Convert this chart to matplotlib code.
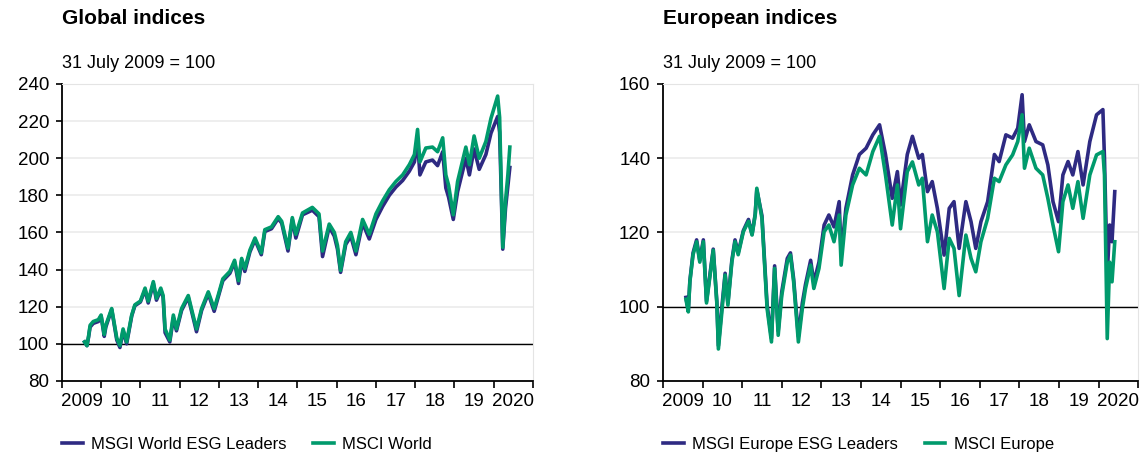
import matplotlib
matplotlib.use("Agg")
import matplotlib.pyplot as plt
from matplotlib.ticker import FixedLocator, NullFormatter

plt.rcParams["font.family"] = ["Liberation Sans", "DejaVu Sans"]

# ---- data (decimal years, index 31 July 2009 = 100) ----
glob_years = [2009.58, 2009.64, 2009.68, 2009.72, 2009.8, 2009.93, 2010.0, 2010.08, 2010.12, 2010.27,
              2010.4, 2010.48, 2010.56, 2010.65, 2010.78, 2010.86, 2011.0, 2011.12, 2011.2, 2011.33,
              2011.41, 2011.52, 2011.58, 2011.63, 2011.75, 2011.84, 2011.92, 2012.05, 2012.22, 2012.3,
              2012.43, 2012.56, 2012.73, 2012.88, 2012.98, 2013.1, 2013.28, 2013.4, 2013.5, 2013.58,
              2013.66, 2013.79, 2013.92, 2014.08, 2014.17, 2014.34, 2014.51, 2014.6, 2014.76, 2014.87,
              2014.96, 2015.13, 2015.38, 2015.55, 2015.64, 2015.81, 2015.94, 2016.02, 2016.1, 2016.23,
              2016.36, 2016.49, 2016.66, 2016.83, 2017.0, 2017.17, 2017.34, 2017.51, 2017.68, 2017.85,
              2017.98, 2018.06, 2018.12, 2018.27, 2018.44, 2018.57, 2018.7, 2018.78, 2018.85, 2018.97,
              2019.08, 2019.29, 2019.38, 2019.5, 2019.63, 2019.8, 2019.93, 2020.1, 2020.15, 2020.23,
              2020.3, 2020.36, 2020.41]
msci_world = [101, 99, 104, 110, 112, 113, 115.5, 105, 110, 119,
              103, 99, 108, 101, 115.5, 121, 123, 130, 123, 133.5,
              124.5, 130, 126, 108, 102, 115.5, 108, 119, 126, 119,
              108, 119, 128, 119, 126, 135, 139, 145, 134, 146,
              140.5, 150.5, 157, 149, 161.5, 163, 168.5, 166, 151.5, 168,
              159, 170.5, 173.5, 170, 150, 164.5, 160, 153, 139.5, 155,
              160, 150, 167, 159, 170, 177, 183, 187.5, 191, 196.5,
              202, 215.5, 198, 205.5, 206, 203.5, 211, 191, 185.5, 169.5,
              187.5, 206, 196.5, 212, 200, 209, 221.5, 233.5, 222, 152,
              177, 191, 206]
world_esg = [101, 99, 103.5, 109, 111, 112, 115, 104, 109, 118.5,
             102, 98, 107, 100, 115, 120.5, 122.5, 129, 122, 132.5,
             123.5, 129, 125, 106, 101, 114, 107, 118, 125, 118,
             106.5, 118, 127, 117.5, 125, 134, 138, 144, 132.5, 145,
             139, 149.5, 156, 148, 160.5, 162, 167.5, 165, 150, 167,
             157, 169.5, 172, 168.5, 147, 163, 158, 151, 138.5, 153.5,
             158, 148, 165, 156.5, 167, 174, 180, 184.5, 188, 193,
             198, 209, 191, 198, 199, 196, 203.5, 184, 179, 167,
             182, 200, 191, 205, 194, 202, 213.5, 222.5, 214, 151,
             173, 185, 195]

eur_years = [2009.58, 2009.64, 2009.68, 2009.76, 2009.85, 2009.93, 2010.02, 2010.1, 2010.19, 2010.27,
             2010.36, 2010.4, 2010.48, 2010.57, 2010.64, 2010.74, 2010.82, 2010.9, 2011.03, 2011.16,
             2011.25, 2011.33, 2011.37, 2011.5, 2011.63, 2011.74, 2011.82, 2011.91, 2012.0, 2012.14,
             2012.22, 2012.3, 2012.42, 2012.52, 2012.6, 2012.73, 2012.81, 2012.94, 2013.07, 2013.19,
             2013.32, 2013.45, 2013.5, 2013.62, 2013.79, 2013.96, 2014.13, 2014.3, 2014.47, 2014.62,
             2014.79, 2014.92, 2015.0, 2015.17, 2015.3, 2015.46, 2015.55, 2015.68, 2015.8, 2015.93,
             2016.1, 2016.23, 2016.35, 2016.48, 2016.65, 2016.78, 2016.9, 2017.03, 2017.2, 2017.37,
             2017.49, 2017.66, 2017.83, 2017.96, 2018.07, 2018.13, 2018.25, 2018.42, 2018.59, 2018.72,
             2018.85, 2018.99, 2019.1, 2019.23, 2019.35, 2019.48, 2019.61, 2019.78, 2019.95, 2020.11,
             2020.15, 2020.22, 2020.28, 2020.34, 2020.41]
msci_europe = [102, 98.6, 106.7, 114, 117.5, 112, 117.5, 101, 108.5, 115.2,
               101, 88.6, 97.7, 108.5, 100.4, 112, 117.5, 114, 120.2, 123,
               119.3, 124.7, 131.9, 123.8, 99.5, 90.5, 110.3, 92.3, 103, 112,
               113.9, 106.7, 90.5, 99.5, 104.9, 111.2, 104.9, 110.3, 120.2, 122,
               117.5, 124.7, 111.2, 124.7, 132.8, 137.3, 135.5, 141.8, 145.9, 135.5,
               122, 132.8, 121, 136.4, 139, 132.8, 134.6, 117.5, 124.7, 120.2,
               104.9, 118.4, 115.7, 103, 119.3, 113, 109.4, 117.5, 123.8, 134.6,
               133.7, 138.2, 140.9, 144.5, 151.7, 137.3, 142.7, 137.3, 135.5, 129.2,
               122, 114.8, 128.3, 132.8, 126.5, 133.7, 123.8, 135.5, 140.9, 141.8,
               135.5, 91.4, 112, 106.7, 117.5]
europe_esg = [102.5, 99, 107, 114.5, 118, 112.5, 118, 101.5, 109, 115.5,
              101.5, 89.5, 99, 109, 101, 112.5, 118, 114.5, 120.5, 123.5,
              119.5, 125, 131.5, 124.5, 100.5, 91.5, 111, 93.5, 104, 113,
              114.5, 107.5, 92, 101, 106, 112.5, 106.5, 112, 122, 124.7,
              121.5, 128.3, 114, 126.5, 135.5, 141, 142.7, 146.3, 149, 141,
              129.2, 136.4, 127.4, 141, 145.9, 140, 141, 131, 133.7, 126.5,
              113.9, 126.5, 128.3, 115.7, 128.3, 122.9, 115.7, 122.9, 128.3, 141,
              139.1, 146.3, 145.4, 148.1, 157.1, 144.5, 149, 144.5, 143.6, 138.2,
              128.3, 122.9, 135.5, 139.1, 135.5, 141.8, 132.8, 144.5, 151.7, 153.1,
              140, 108.5, 122, 117.5, 131]

year_labels = ["2009", "10", "11", "12", "13", "14", "15", "16", "17", "18", "19", "2020"]

NAVY = "#2e2a82"
GREEN = "#009a6c"

fig = plt.figure(figsize=(11.45, 4.54), dpi=100)
ax1 = fig.add_axes([0.054, 0.161, 0.4115, 0.654])
ax2 = fig.add_axes([0.579, 0.161, 0.415, 0.654])


def style_axis(ax, ylim, ystep):
    ax.set_xlim(2009, 2021)
    ax.set_ylim(*ylim)
    ax.set_yticks(range(ylim[0], ylim[1] + 1, ystep))
    # year boundaries as ticks, labels in the middle of each year
    ax.xaxis.set_major_locator(FixedLocator(range(2009, 2022)))
    ax.xaxis.set_major_formatter(NullFormatter())
    ax.xaxis.set_minor_locator(FixedLocator([y + 0.5 for y in range(2009, 2021)]))
    ax.set_xticklabels(year_labels, minor=True)
    ax.tick_params(axis="x", which="major", length=5, width=1.2, color="black")
    ax.tick_params(axis="x", which="minor", length=0, pad=9, labelsize=13.5)
    ax.tick_params(axis="y", length=4, width=1.2, pad=5, labelsize=13.5)
    ax.grid(axis="y", color="#ebebeb", lw=1.2)
    ax.set_axisbelow(True)
    for s in ["top", "right"]:
        ax.spines[s].set_color("#e4e4e4")
    for s in ["left", "bottom"]:
        ax.spines[s].set_color("black")
        ax.spines[s].set_linewidth(1.3)
    ax.axhline(100, color="black", lw=1.0, zorder=1)


ax1.plot(glob_years, world_esg, color=NAVY, lw=2.6, label="MSGI World ESG Leaders", zorder=3)
ax1.plot(glob_years, msci_world, color=GREEN, lw=2.6, label="MSCI World", zorder=4)
style_axis(ax1, (80, 240), 20)

ax2.plot(eur_years, europe_esg, color=NAVY, lw=2.6, label="MSGI Europe ESG Leaders", zorder=3)
ax2.plot(eur_years, msci_europe, color=GREEN, lw=2.6, label="MSCI Europe", zorder=4)
style_axis(ax2, (80, 160), 20)

for ax, title in [(ax1, "Global indices"), (ax2, "European indices")]:
    x0 = ax.get_position().x0
    fig.text(x0, 1 - 18 / 454, title, fontsize=15, fontweight="bold", va="center", ha="left")
    fig.text(x0, 1 - 64 / 454, "31 July 2009 = 100", fontsize=13, va="center", ha="left")
    ax.legend(loc="center left", bbox_to_anchor=(0, -0.215), ncol=2, frameon=False,
              borderpad=0, borderaxespad=0, fontsize=12, handlelength=1.25,
              handletextpad=0.5, columnspacing=1.6)

fig.savefig("out.png", dpi=100)
